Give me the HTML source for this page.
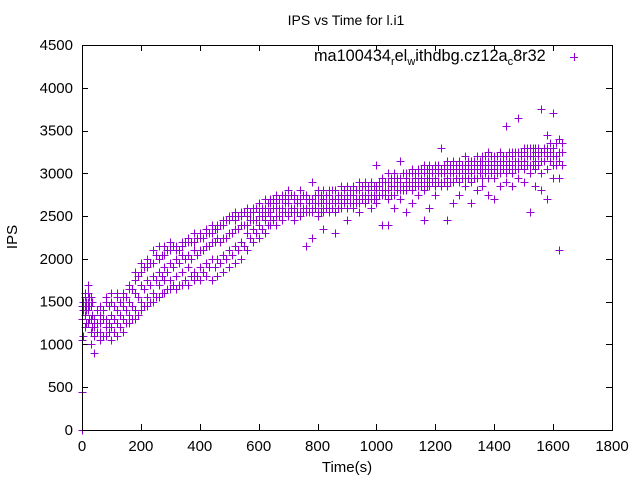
<!DOCTYPE html>
<html><head><meta charset="utf-8"><style>
body{margin:0;background:#fff}
svg{display:block;font-family:"Liberation Sans",sans-serif}
</style></head><body>
<svg width="640" height="480">
<text x="346" y="25" font-size="14" text-anchor="middle">IPS vs Time for l.i1</text>
<g id="axes"></g>
<g id="pts"></g>
<rect x="82.5" y="45.5" width="530" height="385" fill="none" stroke="#000" stroke-width="1" shape-rendering="crispEdges"/>
<text x="347" y="472" font-size="15" text-anchor="middle">Time(s)</text>
<text x="0" y="0" font-size="15" text-anchor="middle" transform="translate(17,237) rotate(-90)">IPS</text>
<g>
<text x="314" y="61" font-size="16.3">ma100434<tspan font-size="11" dy="4">r</tspan><tspan dy="-4">el</tspan><tspan font-size="11" dy="4">w</tspan><tspan dy="-4">ithdbg.cz12a</tspan><tspan font-size="11" dy="4">c</tspan><tspan dy="-4">8r32</tspan></text>
<path d="M570,57.5h8M574.5,53v8" stroke="#9400d3" stroke-width="1" shape-rendering="crispEdges"/>
</g>
</svg>
<script>
const xTicks=[0,200,400,600,800,1000,1200,1400,1600,1800];
const yTicks=[0,500,1000,1500,2000,2500,3000,3500,4000,4500];
const times=[0,10,20,30,40,60,80,100,120,140,160,180,200,220,240,260,280,300,320,340,360,380,400,420,440,460,480,500,520,540,560,580,600,620,640,660,680,700,720,740,760,780,800,820,840,860,880,900,920,940,960,980,1000,1020,1040,1060,1080,1100,1120,1140,1160,1180,1200,1220,1240,1260,1280,1300,1320,1340,1360,1380,1400,1420,1440,1460,1480,1500,1520,1540,1560,1580,1600,1620];
const ips=[[0,450,1050,1300,1450],[1200,1350,1450,1550,1600],[1250,1400,1500,1600,1700],[1000,1150,1300,1450,1550],[900,1100,1200,1300,1250],[1050,1150,1250,1350,1450],[1100,1200,1300,1500,1550],[1050,1200,1350,1500,1600],[1100,1250,1400,1550,1600],[1150,1300,1450,1550,1600],[1250,1350,1500,1650,1700],[1300,1400,1600,1750,1850],[1400,1500,1700,1850,1950],[1450,1550,1750,1900,2000],[1500,1600,1800,1950,2100],[1550,1700,1850,2000,2150],[1600,1750,1900,2050,2150],[1650,1750,1950,2100,2200],[1650,1800,2000,2100,2150],[1700,1850,2050,2150,2200],[1700,1900,2050,2200,2250],[1750,1850,2100,2200,2300],[1750,1900,2100,2250,2300],[1800,1950,2150,2300,2350],[1750,2000,2200,2300,2400],[1800,2000,2250,2350,2400],[1850,2050,2250,2400,2450],[1900,2100,2300,2450,2500],[1950,2150,2350,2450,2550],[2000,2200,2400,2500,2550],[2100,2300,2400,2500,2600],[2200,2350,2450,2550,2600],[2250,2400,2500,2550,2650],[2300,2450,2550,2600,2700],[2400,2500,2550,2650,2700],[2400,2500,2600,2650,2750],[2450,2550,2600,2700,2750],[2500,2550,2650,2700,2800],[2450,2550,2600,2700,2750],[2500,2550,2650,2700,2800],[2150,2550,2600,2700,2750],[2250,2550,2600,2700,2900],[2500,2550,2650,2750,2800],[2350,2550,2600,2700,2800],[2550,2600,2650,2750,2800],[2300,2550,2650,2700,2800],[2600,2650,2700,2750,2850],[2450,2600,2700,2750,2850],[2600,2650,2750,2800,2850],[2550,2650,2700,2800,2900],[2650,2700,2750,2850,2900],[2600,2700,2750,2850,2900],[2650,2700,2800,2850,3100],[2400,2750,2800,2900,2950],[2400,2700,2800,2900,3000],[2600,2750,2850,2950,3000],[2700,2800,2900,2950,3150],[2550,2800,2900,2950,3000],[2650,2800,2900,3000,3050],[2750,2850,2900,3000,3050],[2450,2800,2900,3000,3100],[2600,2850,2950,3000,3100],[2750,2850,2950,3050,3100],[2850,2900,3000,3050,3300],[2450,2850,2950,3050,3150],[2650,2900,3000,3050,3150],[2750,2900,3000,3100,3150],[2850,2950,3000,3100,3200],[2650,2900,3000,3100,3150],[2800,2950,3050,3100,3200],[2850,2950,3050,3150,3200],[2750,2950,3050,3150,3250],[2700,2950,3050,3150,3200],[2850,3000,3100,3150,3250],[2900,3000,3100,3200,3550],[2850,3000,3100,3200,3250],[2950,3050,3150,3250,3650],[2900,3050,3150,3250,3300],[2550,3000,3100,3200,3300],[2850,3050,3150,3250,3300],[2800,3000,3150,3250,3750],[2700,3050,3200,3300,3450],[2950,3100,3200,3300,3700],[2100,2950,3150,3250,3400]];
const times2=[5,15,25,35,50,70,90,110,130,150,170,190,210,230,250,270,290,310,330,350,370,390,410,430,450,470,490,510,530,550,570,590,610,630,650,670,690,710,730,750,770,790,810,830,850,870,890,910,930,950,970,990,1010,1030,1050,1070,1090,1110,1130,1150,1170,1190,1210,1230,1250,1270,1290,1310,1330,1350,1370,1390,1410,1430,1450,1470,1490,1510,1530,1550,1570,1590,1610,1630];
const ips2=[[1100,1400,1500],[1250,1500,1400],[1300,1450,1550],[1200,1350,1500],[1150,1250,1400],[1100,1300,1400],[1150,1250,1450],[1150,1300,1450],[1200,1350,1500],[1250,1400,1550],[1300,1450,1650],[1350,1550,1800],[1450,1650,1900],[1500,1700,1950],[1550,1750,2050],[1600,1800,2050],[1650,1850,2100],[1700,1900,2150],[1700,1950,2100],[1750,2000,2200],[1800,2000,2200],[1800,2050,2250],[1850,2100,2250],[1900,2150,2300],[1900,2200,2350],[1950,2200,2400],[2000,2250,2450],[2050,2300,2500],[2100,2350,2500],[2150,2400,2550],[2250,2450,2550],[2300,2450,2600],[2350,2500,2600],[2400,2550,2650],[2450,2600,2700],[2500,2600,2700],[2550,2650,2750],[2550,2600,2750],[2550,2650,2700],[2550,2600,2750],[2550,2650,2700],[2600,2650,2750],[2550,2650,2750],[2600,2650,2750],[2600,2700,2800],[2600,2700,2750],[2650,2700,2800],[2650,2750,2800],[2650,2700,2800],[2700,2750,2850],[2700,2800,2850],[2700,2750,2850],[2750,2850,2900],[2750,2800,2900],[2750,2850,2950],[2800,2900,2950],[2800,2850,3000],[2850,2900,3000],[2850,2950,3000],[2850,2950,3050],[2850,2950,3050],[2900,3000,3050],[2900,3000,3100],[2900,3000,3100],[2900,3000,3100],[2950,3050,3100],[2950,3050,3100],[2950,3050,3150],[2950,3050,3150],[3000,3100,3150],[3000,3100,3200],[3000,3100,3200],[3000,3100,3200],[3050,3150,3200],[3050,3150,3250],[3050,3150,3250],[3100,3200,3250],[3100,3200,3300],[3100,3200,3300],[3100,3200,3300],[3150,3250,3300],[3150,3250,3350],[3100,3200,3350],[3100,3250,3350]];
const NS="http://www.w3.org/2000/svg";
const X0=82,X1=612,Y0=430,Y1=45;
function sx(v){return X0+(v-0)/(1800-0)*(X1-X0);}
function sy(v){return Y0-(v-0)/(4500-0)*(Y0-Y1);}
const axes=document.getElementById('axes');
function mk(tag,attrs){const e=document.createElementNS(NS,tag);for(const k in attrs)e.setAttribute(k,attrs[k]);return e;}
xTicks.forEach(t=>{
  const x=Math.round(sx(t))+0.5;
  const l=mk('path',{d:`M${x},${Y0}v-6M${x},${Y1}v6`,stroke:'#000','stroke-width':1,'shape-rendering':'crispEdges'});
  
  
  axes.appendChild(l);
  const tx=mk('text',{x:sx(t),y:451,'font-size':15,'text-anchor':'middle'});
  tx.textContent=t;
  
  
  axes.appendChild(tx);
});
yTicks.forEach(t=>{
  const y=Math.round(sy(t))+0.5;
  const l=mk('path',{d:`M${X0},${y}h6M${X1},${y}h-6`,stroke:'#000','stroke-width':1,'shape-rendering':'crispEdges'});
  
  
  axes.appendChild(l);
  const tx=mk('text',{x:73,y:sy(t)+5,'font-size':15,'text-anchor':'end'});
  tx.textContent=t;
  
  
  axes.appendChild(tx);
});
const pts=document.getElementById('pts');
let d='';
function add(t,v){const x=Math.round(sx(t))+0.5,y=Math.round(sy(v))+0.5;d+=`M${x-4},${y}h8M${x},${y-4}v8`;}
times.forEach((t,i)=>{ips[i].forEach(v=>add(t,v));});
times2.forEach((t,i)=>{ips2[i].forEach(v=>add(t,v));});
const p=mk('path',{d:d,stroke:'#9400d3','stroke-width':1,fill:'none','shape-rendering':'crispEdges'});


pts.appendChild(p);
</script>
</body></html>
